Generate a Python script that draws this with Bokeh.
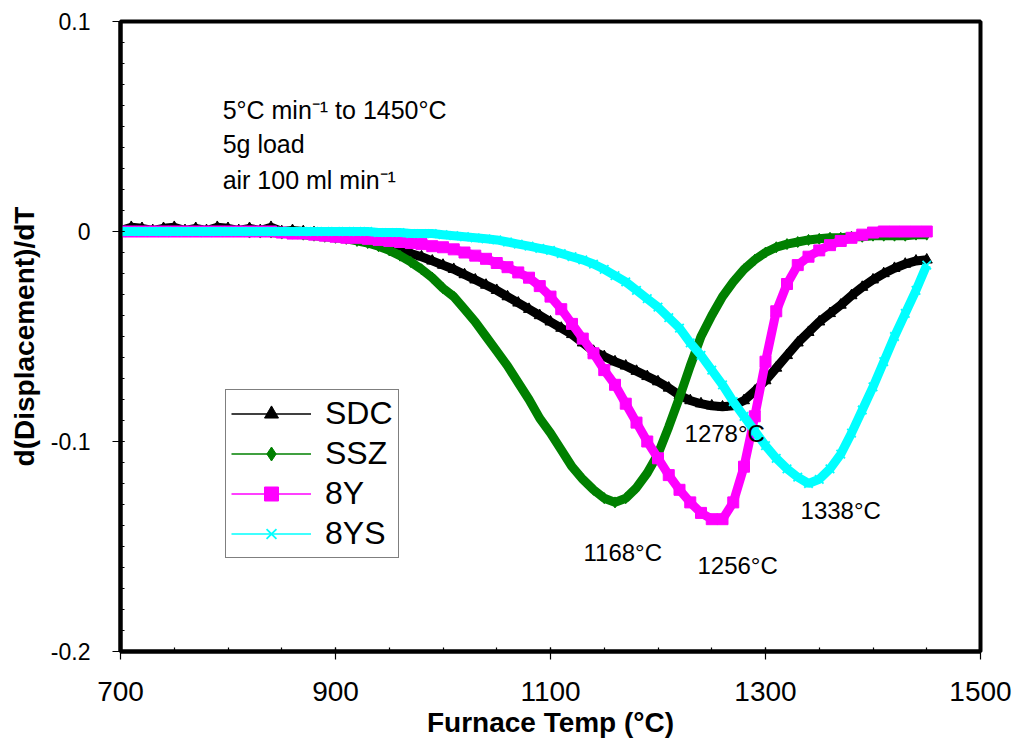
from bokeh.plotting import figure
from bokeh.models import (Label, Legend, LegendItem, FixedTicker, CustomJSTickFormatter)
from bokeh.embed import file_html
from bokeh.resources import INLINE

FONT = "Liberation Sans"

# Furnace temperature grid (deg C)
temps = list(range(700, 1451, 10))

# d(Displacement)/dT values, in units of 1e-3
sdc = [0.5, 2, 1.5, 0.5, 1.5, 2, 0.5, 1.5, 0.5, 2,
       1.5, 0.5, 1.5, 0.5, 2, 0, 0.5, 0, -0.5, -1,
       -2, -3, -4, -5, -6, -7.5, -9, -10.5, -12, -14,
       -16, -18, -20.5, -23, -25.5, -28, -31, -34, -37, -40,
       -43, -46, -49, -53, -57, -59.5, -62, -64, -66.5, -69,
       -71.5, -74.5, -78, -80.5, -82, -83, -83.5, -83, -80.5, -76,
       -71, -65, -59, -53, -48, -43, -39, -35, -30.5, -26.5,
       -23, -20, -17.5, -15.5, -14, -13.5]
ssz = [0, 0, 0, 0, 0, 0, 0, 0, 0, 0,
       0, 0, -0.5, -0.5, -0.5, -1, -1, -1.5, -2, -2.5,
       -3, -3.5, -4.5, -5.5, -7, -9, -11.5, -14.5, -18, -22,
       -27, -31, -37, -43, -50, -57, -64, -72, -80, -89,
       -96, -104, -112, -118, -123, -127, -129, -127, -122, -115,
       -106, -93, -79, -64, -50, -40, -31, -24, -18, -13.5,
       -10, -7.5, -6, -5, -4, -3.5, -3, -3, -2.5, -2.5,
       -2, -2, -2, -2, -1.5, -1.5]
y8 = [0, 0, 0, 0, 0, 0, 0, 0, 0, 0,
      0, 0, 0, 0, 0, -0.5, -1, -1, -1.5, -2,
      -2.5, -3, -3, -3.5, -4, -4.5, -5, -5.5, -6, -7,
      -7.5, -8.5, -10, -11.5, -13, -15, -17, -19.5, -22, -26,
      -31, -37, -44, -51, -58, -66, -73, -82, -91, -100,
      -108, -116, -123, -129, -134, -137, -137, -129, -112, -88,
      -62, -38, -25, -16, -12, -9, -6.5, -4.5, -3, -1.5,
      -0.5, 0, 0, 0, 0, 0]
ys8 = [0, 0, 0, 0, 0, 0, 0, 0, 0, 0,
       0, 0, 0, 0, 0, 0, 0, 0, 0, 0,
       0, 0, 0, 0, -0.5, -0.5, -0.5, -1, -1, -1,
       -1.5, -2, -2.5, -3, -3.5, -4, -5, -6, -7, -8,
       -9, -10.5, -12, -13.5, -15.5, -18, -21, -24, -28, -32,
       -36, -41, -46, -53, -59, -66, -73, -81, -88, -95,
       -102, -108, -113, -117, -120, -118, -113, -106, -96, -85,
       -74, -62, -50, -39, -28, -16]

series_names = ["SDC", "SSZ", "8Y", "8YS"]
series_vals = [sdc, ssz, y8, ys8]
series_colors = ["#000000", "#008000", "#FF00FF", "#00FFFF"]
series_markers = ["triangle", "diamond", "square", "x"]

x_ticks = [700, 900, 1100, 1300, 1500]
y_ticks = [-0.2, -0.1, 0, 0.1]

peak_labels = ["1168°C", "1256°C", "1278°C", "1338°C"]
note_lines = ["5°C min⁻¹ to 1450°C", "5g load", "air 100 ml min⁻¹"]

p = figure(frame_width=860, frame_height=630, x_range=(700, 1500), y_range=(-0.2, 0.1),
           output_backend="svg", toolbar_location=None,
           min_border_left=120, min_border_right=36, min_border_top=21, min_border_bottom=90,
           background_fill_color="white", border_fill_color="white")

p.xgrid.visible = False
p.ygrid.visible = False
p.outline_line_color = "black"
p.outline_line_width = 4
p.outline_line_alpha = 1.0

legend_items = []
for name, vals, col, mk in zip(series_names, series_vals, series_colors, series_markers):
    ys = [v * 1e-3 for v in vals]
    # thin line (used for the legend glyph; hidden under the thick band)
    thin = p.line(temps, ys, line_color=col, line_width=1.5)
    p.line(temps, ys, line_color=col, line_width=9)
    if mk == "x":
        mr = p.scatter(temps, ys, marker=mk, size=12, line_color=col, line_width=1.8)
    else:
        mr = p.scatter(temps, ys, marker=mk, size=11, fill_color=col, line_color=col)
    legend_items.append(LegendItem(label=name, renderers=[thin, mr]))

legend = Legend(items=legend_items, location=(105, 93))
legend.border_line_color = "black"
legend.border_line_width = 1.5
legend.background_fill_color = "white"
legend.background_fill_alpha = 1.0
legend.label_text_font = FONT
legend.label_text_font_size = "32px"
legend.label_text_color = "black"
legend.glyph_width = 80
legend.glyph_height = 35
legend.label_height = 35
legend.label_width = 66
legend.label_standoff = 14
legend.spacing = 3
legend.padding = 5
legend.margin = 0
p.add_layout(legend)

# axes
minor_x = list(range(700, 1501, 50))
p.xaxis.ticker = FixedTicker(ticks=x_ticks, minor_ticks=minor_x)
minor_y = [round(-0.2 + 0.01 * i, 3) for i in range(31)]
p.yaxis.ticker = FixedTicker(ticks=y_ticks, minor_ticks=minor_y)
p.yaxis.formatter = CustomJSTickFormatter(code="return Math.abs(tick) < 1e-9 ? '0' : tick.toFixed(1);")

for ax in (p.xaxis[0], p.yaxis[0]):
    ax.axis_line_width = 4
    ax.axis_line_color = "black"
    ax.major_tick_line_color = "black"
    ax.major_tick_line_width = 1.2
    ax.major_tick_in = 4
    ax.major_tick_out = 8
    ax.minor_tick_line_color = "black"
    ax.minor_tick_line_width = 1.2
    ax.minor_tick_in = 4
    ax.minor_tick_out = 0
    ax.major_label_text_font = FONT
    ax.major_label_text_color = "black"
    ax.axis_label_text_font = FONT
    ax.axis_label_text_font_style = "bold"
    ax.axis_label_text_color = "black"
    ax.axis_label_text_font_size = "28px"

p.xaxis.major_label_text_font_size = "28px"
p.xaxis.major_label_standoff = 22
p.xaxis.axis_label = "Furnace Temp (°C)"
p.xaxis.axis_label_standoff = 3

p.yaxis.major_label_text_font_size = "23px"
p.yaxis.major_label_standoff = 22
p.yaxis.axis_label = "d(Displacement)/dT"
p.yaxis.axis_label_standoff = 8

# text notes
note_y = [0.05795, 0.04143, 0.02429]
for txt, yy in zip(note_lines, note_y):
    p.add_layout(Label(x=795, y=yy, text=txt, text_font=FONT, text_font_size="25px",
                       text_color="black", text_baseline="alphabetic"))

peak_pos = [(1130.7, -0.1529), (1236.7, -0.1590), (1224.7, -0.0962), (1332.6, -0.1329)]
for txt, (xx, yy) in zip(peak_labels, peak_pos):
    p.add_layout(Label(x=xx, y=yy, text=txt, text_font=FONT, text_font_size="24px",
                       text_color="black", text_baseline="alphabetic"))

open("out.html", "w").write(file_html(p, INLINE, title="d(Displacement)/dT"))
